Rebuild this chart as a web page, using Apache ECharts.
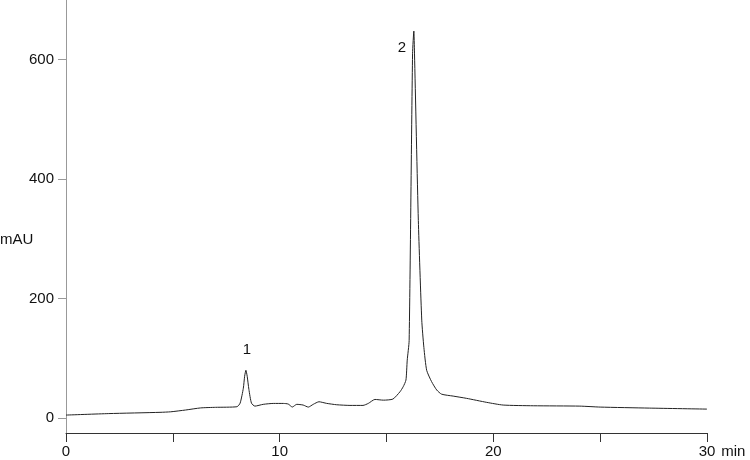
<!DOCTYPE html>
<html><head><meta charset="utf-8">
<script src="https://cdn.jsdelivr.net/npm/echarts@6/dist/echarts.min.js"></script>
<style>html,body{margin:0;padding:0;background:#fff}#c{width:750px;height:460px}</style>
</head><body><div id="c"></div>
<script>
var times = [0, 2, 4.4, 4.9, 5.6, 6.3, 7.0, 8.0, 8.15, 8.3, 8.36, 8.42, 8.48, 8.56, 8.68, 8.84, 9.23, 9.7, 10.17, 10.4, 10.59, 10.8, 11.1, 11.34, 11.57, 11.84, 12.2, 12.67, 13.29, 13.9, 14.15, 14.46, 14.85, 15.3, 15.63, 15.78, 15.91, 15.97, 16.06, 16.22, 16.28, 16.31, 16.49, 16.65, 16.75, 16.88, 17.11, 17.35, 17.58, 18.12, 18.75, 19.69, 20.46, 21.87, 24.05, 25, 27.3, 30];
var mAU = [5, 7.5, 9.6, 10.5, 13.5, 17, 18, 19, 25, 50, 70, 80, 70, 48, 25, 20, 23, 24.5, 24.5, 23.5, 18.5, 23, 21.8, 18.4, 23, 27.3, 24.6, 22.3, 21.2, 21.2, 24.6, 31.2, 30, 31.8, 44, 52.4, 63.6, 97, 130, 610, 648, 611, 331, 164, 118, 80, 61, 47, 40, 36.8, 33, 26.3, 21.8, 20.6, 20, 18.4, 16.7, 15];
var peakNames = ['1', '2'];
var peakTimes = [8.42, 16.28];
var peakValues = [80, 648];
var yTicks = [0, 200, 400, 600];
var xTicks = [0, 10, 20, 30];

var chart = echarts.init(document.getElementById('c'));
var pts = times.map(function (t, i) { return [t, mAU[i]]; });
var font = 'Liberation Sans, Arial, sans-serif';
chart.setOption({
  animation: false,
  grid: { left: 66, right: 43, top: 0, bottom: 27, outerBoundsMode: 'none', containLabel: false },
  xAxis: {
    type: 'value', min: 0, max: 30, interval: 5,
    axisLine: { show: true, onZero: false, lineStyle: { color: '#333', width: 1 } },
    axisTick: { show: true, length: 9, lineStyle: { color: '#333' } },
    splitLine: { show: false },
    axisLabel: {
      margin: 11, color: '#111', fontFamily: font, fontSize: 15,
      formatter: function (v) { return xTicks.indexOf(v) >= 0 ? String(v) : ''; }
    },
    name: 'min', nameLocation: 'end', nameGap: 6,
    nameTextStyle: { color: '#111', fontFamily: font, fontSize: 15, verticalAlign: 'top', padding: [11, 0, 0, 0] }
  },
  yAxis: {
    type: 'value', min: -25, max: 700,
    axisLine: { show: true, lineStyle: { color: '#999', width: 1 } },
    axisTick: { show: true, length: 8, customValues: yTicks, lineStyle: { color: '#999' } },
    axisLabel: { margin: 12, color: '#111', fontFamily: font, fontSize: 15, customValues: yTicks },
    splitLine: { show: false }
  },
  graphic: [{ type: 'text', left: 0, top: 232, style: { text: 'mAU', fill: '#111', font: '15px ' + font } }],
  series: [{
    type: 'line', data: pts, showSymbol: false, smooth: 0.2,
    lineStyle: { color: '#222', width: 1 },
    markPoint: {
      symbol: 'circle', symbolSize: 0,
      label: { show: true, color: '#111', fontFamily: font, fontSize: 15, formatter: '{b}' },
      data: peakNames.map(function (n, i) {
        return { name: n, coord: [peakTimes[i], peakValues[i]],
          label: { offset: i === 0 ? [1, -20] : [-12, 17] } };
      })
    }
  }]
});
</script></body></html>
